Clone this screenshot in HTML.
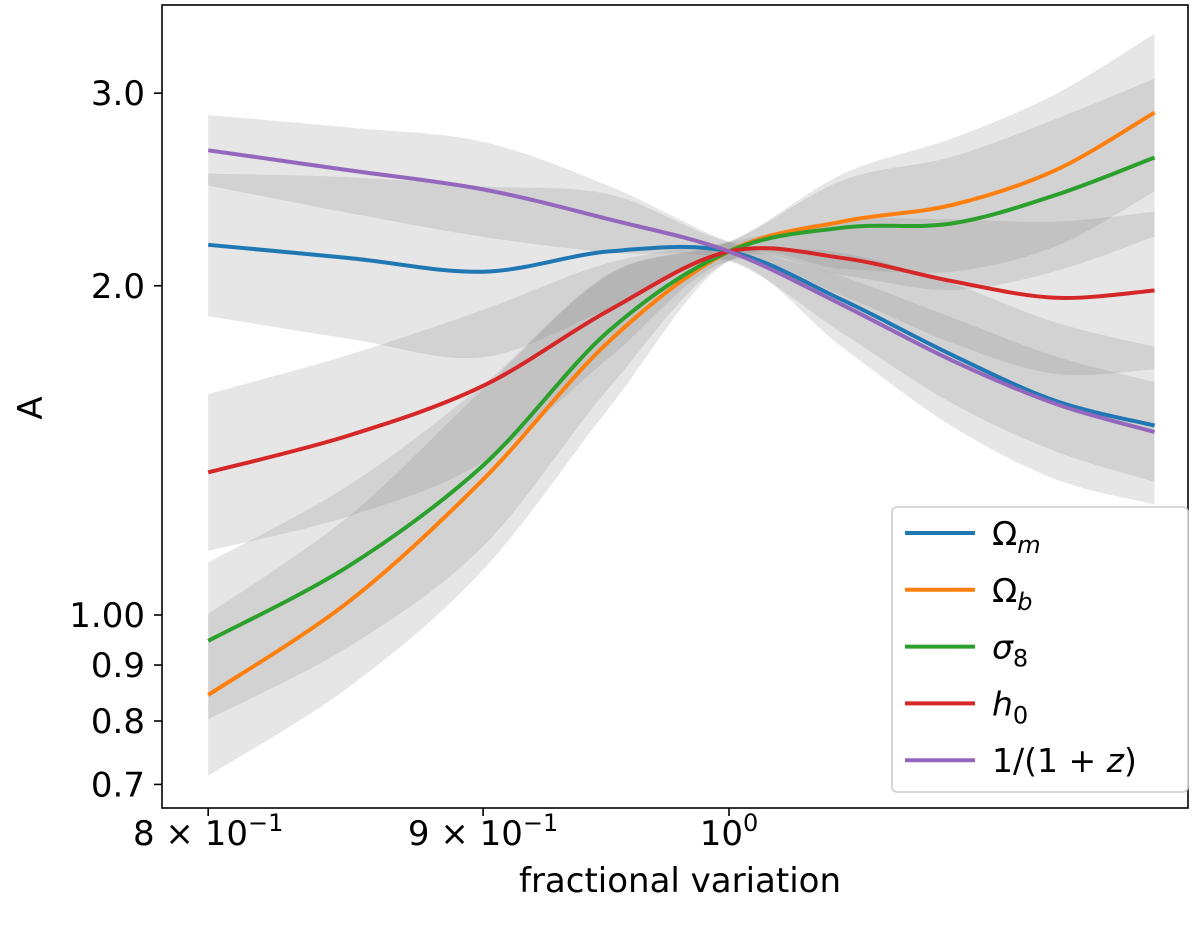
<!DOCTYPE html>
<html><head><meta charset="utf-8"><style>
body{margin:0;background:#fff;}
svg text{font-family:"DejaVu Sans","Liberation Sans",sans-serif;fill:#000;}
</style></head><body>
<svg id="chart" width="1200" height="927" viewBox="0 0 1200 927" xmlns="http://www.w3.org/2000/svg">
<g id="bands"></g>
<g id="lines"></g>
<rect x="162" y="5" width="1026" height="803" fill="none" stroke="#000" stroke-width="1.6"/>
<g id="axes"></g>
<text x="680" y="892" font-size="34" text-anchor="middle">fractional variation</text>
<text x="0" y="0" font-size="34" text-anchor="middle" transform="translate(42,408) rotate(-90)">A</text>
<g id="legend"></g>
</svg>
<script>
const xs = [0.8,0.85,0.9,0.95,1.0,1.05,1.1,1.15,1.2];
const omegaM = [2.18,2.12,2.06,2.15,2.15,1.94,1.73,1.57,1.49];
const omegaB = [0.845,1.03,1.33,1.78,2.15,2.29,2.37,2.55,2.88];
const sigma8 = [0.947,1.11,1.37,1.82,2.15,2.26,2.28,2.42,2.62];
const h0 = [1.35,1.46,1.62,1.90,2.15,2.12,2.02,1.95,1.98];
const invA = [2.66,2.55,2.45,2.30,2.15,1.92,1.71,1.56,1.47];
const wOmegaM = [0.15,0.17,0.18,0.12,0.02,0.1,0.15,0.165,0.166];
const wOmegaB = [0.17,0.18,0.19,0.14,0.02,0.1,0.14,0.16,0.166];
const wSigma8 = [0.165,0.17,0.17,0.12,0.02,0.1,0.14,0.16,0.166];
const wH0 = [0.165,0.17,0.16,0.1,0.02,0.08,0.13,0.16,0.166];
const wInvA = [0.074,0.09,0.1,0.07,0.02,0.06,0.09,0.1,0.105];
const xTicks = [0.8,0.9,1.0];
const xTickLabels = [["8","−1"],["9","−1"],["10","0"]];
const yTicks = [3.0,2.0,1.0,0.9,0.8,0.7];
const yTickLabels = ["3.0","2.0","1.00","0.9","0.8","0.7"];
const seriesNames = ["Ω_m","Ω_b","σ_8","h_0","1/(1+z)"];
const colors = ["#1f77b4","#ff7f0e","#2ca02c","#d62728","#9467bd"];

const NS="http://www.w3.org/2000/svg";
const X = v => 729 + 2334*Math.log(v);
const Y = v => 615 - 475*Math.log(v);
function smooth(pts){
  let d="M"+pts[0][0]+","+pts[0][1];
  for(let i=0;i<pts.length-1;i++){
    const p0=pts[Math.max(0,i-1)],p1=pts[i],p2=pts[i+1],p3=pts[Math.min(pts.length-1,i+2)];
    const c1=[p1[0]+(p2[0]-p0[0])/6,p1[1]+(p2[1]-p0[1])/6];
    const c2=[p2[0]-(p3[0]-p1[0])/6,p2[1]-(p3[1]-p1[1])/6];
    d+=" C"+c1[0]+","+c1[1]+" "+c2[0]+","+c2[1]+" "+p2[0]+","+p2[1];
  }
  return d;
}
const series=[omegaM,omegaB,sigma8,h0,invA];
const widths=[wOmegaM,wOmegaB,wSigma8,wH0,wInvA];
const bandKeys=["omega-m","omega-b","sigma-8","h-0","scale-factor"];
const bands=document.getElementById("bands");
series.forEach((s,k)=>{
  const up=xs.map((x,i)=>[X(x),Y(s[i]*Math.exp(widths[k][i]))]);
  const lo=xs.map((x,i)=>[X(x),Y(s[i]*Math.exp(-widths[k][i]))]).reverse();
  const d=smooth(up)+" L"+smooth(lo).slice(1)+" Z";
  const p=document.createElementNS(NS,"path");
  p.setAttribute("d",d);p.setAttribute("fill","#808080");p.setAttribute("fill-opacity","0.2");
  
  
  bands.appendChild(p);
});
const lines=document.getElementById("lines");
series.forEach((s,k)=>{
  const p=document.createElementNS(NS,"path");
  p.setAttribute("d",smooth(xs.map((x,i)=>[X(x),Y(s[i])])));
  p.setAttribute("fill","none");p.setAttribute("stroke",colors[k]);p.setAttribute("stroke-width","4");
  
  
  lines.appendChild(p);
});
const axes=document.getElementById("axes");
let h="";
xTicks.forEach((t,i)=>{
  const x=X(t);
  h+=`<line x1="${x}" y1="808" x2="${x}" y2="816" stroke="#000" stroke-width="1.6"/>`;
  const l=xTickLabels[i];
  if(l[0]==="10") h+=`<text x="${x}" y="845" font-size="34" text-anchor="middle">10<tspan dy="-14" font-size="24">${l[1]}</tspan></text>`;
  else h+=`<text x="${x}" y="845" font-size="34" text-anchor="middle">${l[0]} × 10<tspan dy="-14" font-size="24">${l[1]}</tspan></text>`;
});
yTicks.forEach((t,i)=>{
  const y=Y(t);
  h+=`<line x1="154" y1="${y}" x2="162" y2="${y}" stroke="#000" stroke-width="1.6"/>`;
  h+=`<text x="145" y="${y+12}" font-size="34" text-anchor="end">${yTickLabels[i]}</text>`;
});
axes.innerHTML=h;
const leg=document.getElementById("legend");
const labels=[
 'Ω<tspan font-style="italic" font-size="24" dy="8">m</tspan>',
 'Ω<tspan font-style="italic" font-size="24" dy="8">b</tspan>',
 '<tspan font-style="italic">σ</tspan><tspan font-size="24" dy="8">8</tspan>',
 '<tspan font-style="italic">h</tspan><tspan font-size="24" dy="8">0</tspan>',
 '1/(1 + <tspan font-style="italic">z</tspan>)'];
let lh=`<rect x="892" y="507" width="296" height="285" rx="5" fill="#fff" fill-opacity="0.85" stroke="#ccc" stroke-width="1.6"/>`;
labels.forEach((t,i)=>{
  const y=533+i*56.8;
  lh+=`<line x1="905" y1="${y}" x2="975" y2="${y}" stroke="${colors[i]}" stroke-width="4"/>`;
  lh+=`<text x="992" y="${y+12}" font-size="33">${t}</text>`;
});
leg.innerHTML=lh;
</script>
</body></html>
